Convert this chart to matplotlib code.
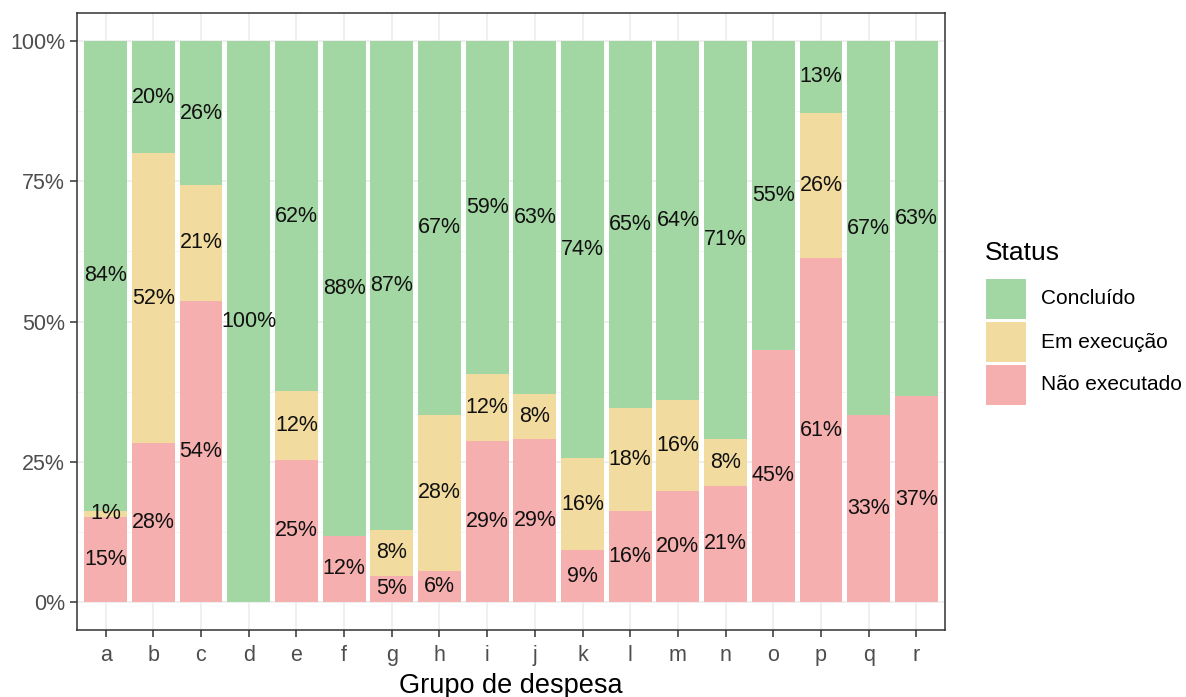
import numpy as np
import matplotlib
matplotlib.use('Agg')
import matplotlib.pyplot as plt
from matplotlib.patches import Rectangle

plt.rcParams['font.family'] = ['Liberation Sans', 'DejaVu Sans']

grupos = list('abcdefghijklmnopqr')
status = ['Concluído', 'Em execução', 'Não executado']
# percentages per group (bottom to top: Não executado, Em execução, Concluído)
nao_exec = [15.2, 28.3, 53.7, 0.0, 25.3, 11.8, 4.7, 5.6, 28.7, 29.0, 9.2, 16.3, 19.8, 20.7, 45.0, 61.3, 33.3, 36.7]
em_exec = [1.1, 51.7, 20.6, 0.0, 12.3, 0.0, 8.1, 27.8, 12.0, 8.0, 16.4, 18.3, 16.2, 8.4, 0.0, 25.9, 0.0, 0.0]
concluido = [83.7, 20.0, 25.7, 100.0, 62.4, 88.2, 87.2, 66.6, 59.3, 63.0, 74.4, 65.4, 64.0, 70.9, 55.0, 12.8, 66.7, 63.3]

cores = {'Concluído': '#A2D6A2', 'Em execução': '#F2DB9E', 'Não executado': '#F6AFAF'}

W, H = 1186, 697
fig = plt.figure(figsize=(W / 100, H / 100), dpi=100)
ax = fig.add_axes([77 / W, 1 - 630 / H, (945 - 77) / W, (630 - 13) / H])

x = np.arange(len(grupos))
bottom = np.zeros(len(grupos))
for nome, vals in [('Não executado', nao_exec), ('Em execução', em_exec), ('Concluído', concluido)]:
    vals = np.array(vals)
    ax.bar(x, vals, bottom=bottom, width=0.9, color=cores[nome], edgecolor='none', zorder=2)
    for xi, b, v in zip(x, bottom, vals):
        if v > 0:
            ax.text(xi, b + v / 2, '{:.0f}%'.format(round(v)), ha='center', va='center',
                    fontsize=15.5, color='#111111', zorder=3)
    bottom += vals

ax.set_xlim(-0.6, len(grupos) - 0.4)
ax.set_ylim(-5, 105)
ax.set_yticks([0, 25, 50, 75, 100])
ax.set_yticklabels(['0%', '25%', '50%', '75%', '100%'])
ax.set_yticks([12.5, 37.5, 62.5, 87.5], minor=True)
ax.set_xticks(x)
ax.set_xticklabels(grupos)
ax.tick_params(axis='both', which='major', labelsize=15.5, labelcolor='#4D4D4D', color='#333333',
               length=5, width=1.1)
ax.tick_params(axis='x', which='major', pad=6)
ax.tick_params(axis='y', which='minor', length=0)
ax.grid(which='major', color='#EBEBEB', linewidth=1.1, zorder=0)
ax.grid(which='minor', axis='y', color='#F2F2F2', linewidth=0.6, zorder=0)
ax.set_axisbelow(True)
for s in ax.spines.values():
    s.set_color('#333333')
    s.set_linewidth(1.1)
ax.set_xlabel('Grupo de despesa', fontsize=19.5, labelpad=5)

# legend drawn in figure pixels
fig.text(985 / W, 1 - 253 / H, 'Status', fontsize=19, ha='left', va='center')
for i, s in enumerate(status):
    top = 279 + i * 43
    fig.patches.append(Rectangle((986 / W, 1 - (top + 40) / H), 40 / W, 40 / H,
                                 transform=fig.transFigure, facecolor=cores[s], edgecolor='none'))
    fig.text(1041 / W, 1 - (top + 20) / H, s, fontsize=15, ha='left', va='center')

fig.savefig('out.png', dpi=100)
